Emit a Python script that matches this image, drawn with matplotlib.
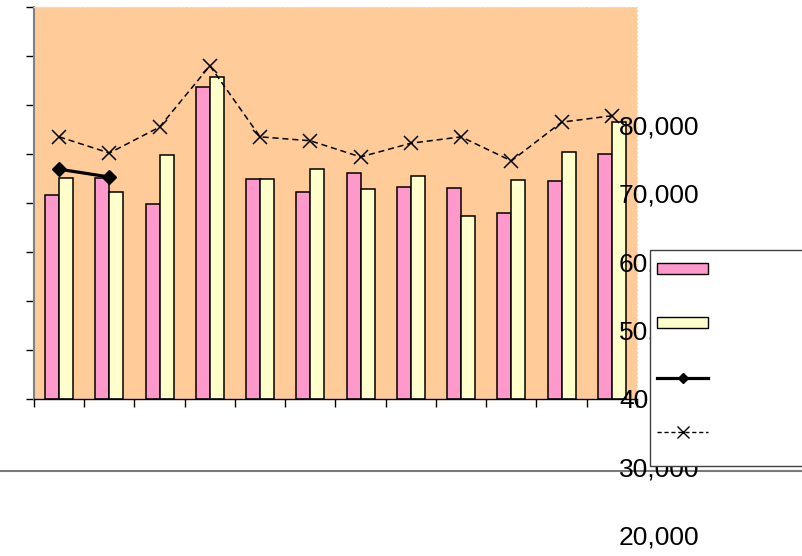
import matplotlib
matplotlib.use("Agg")
import matplotlib.pyplot as plt
import numpy as np
from matplotlib.lines import Line2D
from matplotlib.patches import Rectangle, Patch
from matplotlib.ticker import FuncFormatter, MultipleLocator, FixedLocator, NullFormatter

# ---- data -------------------------------------------------------------
months = list(range(1, 13))
series_a = [41600, 45100, 39800, 63700, 44900, 42200, 46100, 43300, 43100, 38000, 44500, 50000]
series_b = [45100, 42200, 49800, 65700, 44900, 46900, 42900, 45500, 37300, 44700, 50400, 56500]
series_c = [46900, 45300]
series_d = [53500, 50200, 55500, 68000, 53500, 52700, 49400, 52200, 53500, 48600, 56500, 57800]
right_ticks = [20000, 30000, 40000, 50000, 60000, 70000, 80000]

# ---- colours ----------------------------------------------------------
plot_bg = "#FFCC99"
pink = "#FF99CC"
cream = "#FFFFCC"

W, H = 803, 556
fig = plt.figure(figsize=(W / 100, H / 100), dpi=100)
fig.patch.set_facecolor("white")

def fx(px):
    return px / W

def fy(px):
    return (H - px) / H

# main plotting area
ax = fig.add_axes([fx(34), fy(399), fx(637) - fx(34), fy(7) - fy(399)])
ax.set_facecolor(plot_bg)

x = np.arange(len(months))
bw = 0.28
bars_a = ax.bar(x - bw / 2, series_a, width=bw, color=pink, edgecolor="black", linewidth=1.1, zorder=2)
bars_b = ax.bar(x + bw / 2, series_b, width=bw, color=cream, edgecolor="black", linewidth=1.1, zorder=2)
line_c, = ax.plot(x[:len(series_c)], series_c, color="black", lw=2.3, marker="D",
                  markersize=7, zorder=3)
line_d, = ax.plot(x, series_d, color="black", lw=1.1, linestyle=(0, (4, 2.5)), marker="x",
                  markersize=10, markeredgewidth=1.1, zorder=3)

ax.set_xlim(-0.5, len(months) - 0.5)
ax.set_ylim(0, 80000)
ax.yaxis.set_major_locator(MultipleLocator(10000))
ax.yaxis.set_major_formatter(NullFormatter())
ax.xaxis.set_major_locator(FixedLocator(np.arange(-0.5, len(months), 1.0)))
ax.xaxis.set_major_formatter(NullFormatter())
ax.tick_params(axis="both", direction="out", length=5.5, width=1.0, color="black")

ax.spines["left"].set_color("#808080")
ax.spines["left"].set_linewidth(1.5)
ax.spines["bottom"].set_color("black")
ax.spines["bottom"].set_linewidth(1.0)
for side in ("top", "right"):
    ax.spines[side].set_color("#F6DDBF")
    ax.spines[side].set_linestyle((0, (1, 2)))
    ax.spines[side].set_linewidth(1.0)

# value scale printed down the right-hand side
ax_lab = fig.add_axes([0, 0, fx(617), 1])
ax_lab.patch.set_visible(False)
for s in ax_lab.spines.values():
    s.set_visible(False)
ax_lab.xaxis.set_visible(False)
ax_lab.yaxis.tick_right()
ax_lab.yaxis.set_major_locator(FixedLocator(right_ticks))
ax_lab.yaxis.set_major_formatter(FuncFormatter(lambda v, p: f"{int(v):,}"))
ax_lab.tick_params(axis="y", length=0, pad=1.5, labelsize=19)
for t in ax_lab.get_yticklabels():
    t.set_fontfamily("Liberation Sans")
# px-per-unit mapping: 80,000 at y=125 px, 20,000 at y=535 px
scale = (535 - 125) / 60000.0
ax_lab.set_ylim(20000 - (H - 535) / scale, 80000 + 125 / scale)

# chart-area rule across the full width
rule = Line2D([0, 1], [fy(470.5), fy(470.5)], transform=fig.transFigure,
              color="#7a7a7a", lw=1.5, clip_on=False, zorder=1)
ax_lab.add_artist(rule)

# legend box
box = Rectangle((fx(650.5), fy(466)), fx(200), fy(250) - fy(466), transform=fig.transFigure,
                facecolor="white", edgecolor="#404040", lw=1.0, zorder=3)
fig.patches.append(box)

handles = [Patch(facecolor=pink, edgecolor="black", lw=1.0),
           Patch(facecolor=cream, edgecolor="black", lw=1.0),
           Line2D([], [], color="black", lw=2.3, marker="D", markersize=5),
           Line2D([], [], color="black", lw=1.0, linestyle=(0, (3, 2)), marker="x",
                  markersize=8, markeredgewidth=1.0)]
fs = 14
fpx = fs * 100 / 72
leg = fig.legend(handles, ["", "", "", ""], loc="upper left",
                 bbox_to_anchor=(fx(657), fy(260)), frameon=False,
                 fontsize=fs, handlelength=51 / fpx, handleheight=0.5,
                 handletextpad=0.2, labelspacing=(54 - 22.6 + 4) / fpx,
                 borderpad=0.0, borderaxespad=0.0)
leg.set_zorder(5)

fig.savefig("out.png", dpi=100, facecolor="white")
